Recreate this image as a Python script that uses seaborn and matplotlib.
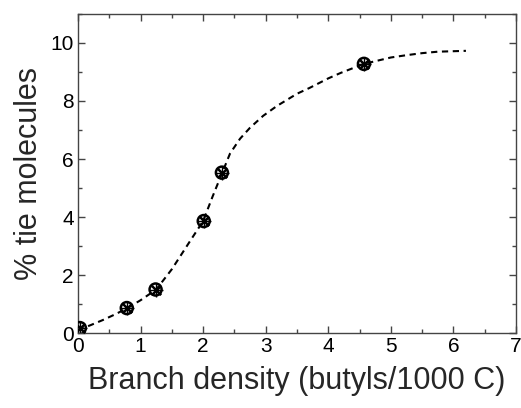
import matplotlib
matplotlib.use("Agg")
import matplotlib.pyplot as plt
import seaborn as sns
import pandas as pd
from matplotlib.ticker import MultipleLocator

# measured data points
branch_density = [0.03, 0.78, 1.24, 2.01, 2.30, 4.57]
tie_pct = [0.17, 0.86, 1.50, 3.86, 5.53, 9.28]

# dashed fit curve
fit_x = [0.0, 0.2, 0.4, 0.6, 0.78, 1.0, 1.25, 1.5, 1.8, 2.0, 2.15, 2.3, 2.43, 2.59,
         2.75, 2.96, 3.18, 3.5, 3.7, 4.0, 4.2, 4.57, 5.0, 5.25, 5.5, 5.75, 6.2]
fit_y = [0.1, 0.27, 0.45, 0.65, 0.85, 1.13, 1.5, 2.2, 3.2, 3.86, 4.7, 5.5, 6.19, 6.7,
         7.08, 7.49, 7.83, 8.25, 8.45, 8.78, 8.97, 9.28, 9.5, 9.58, 9.65, 9.7, 9.73]

sns.set_style("ticks")
plt.rcParams['font.family'] = ['Liberation Sans', 'DejaVu Sans']

fig = plt.figure(figsize=(5.21, 4.08), dpi=100)
ax = fig.add_axes([0.1497, 0.1838, 0.8407, 0.7819])

fit_df = pd.DataFrame({"x": fit_x, "y": fit_y})
pts_df = pd.DataFrame({"x": branch_density, "y": tie_pct})

sns.lineplot(data=fit_df, x="x", y="y", ax=ax, color="black", lw=1.5,
             linestyle=(0, (3, 2.2)), sort=False)
sns.scatterplot(data=pts_df, x="x", y="y", ax=ax, marker="o", s=75,
                facecolor="none", edgecolor="black", linewidth=1.8, zorder=3)
sns.scatterplot(data=pts_df, x="x", y="y", ax=ax, marker="x", s=45,
                color="black", linewidth=1.8, zorder=4)
sns.scatterplot(data=pts_df, x="x", y="y", ax=ax, marker="+", s=115,
                color="black", linewidth=1.0, zorder=2)

ax.set_xlim(0, 7)
ax.set_ylim(0, 11)
ax.xaxis.set_major_locator(MultipleLocator(1))
ax.xaxis.set_minor_locator(MultipleLocator(0.5))
ax.yaxis.set_major_locator(MultipleLocator(2))
ax.yaxis.set_minor_locator(MultipleLocator(1))

spine_c = "#444444"
for s in ax.spines.values():
    s.set_visible(True)
    s.set_color(spine_c)
    s.set_linewidth(1.0)

ax.tick_params(which="both", direction="in", top=True, right=True,
               color=spine_c, labelsize=15, labelcolor="black")
ax.tick_params(which="major", length=5, width=1.0, pad=3)
ax.tick_params(which="minor", length=3, width=1.0)

ax.set_xlabel("Branch density (butyls/1000 C)", fontsize=22, labelpad=7)
ax.set_ylabel("% tie molecules", fontsize=22, labelpad=5)

fig.savefig("out.png", dpi=100)
